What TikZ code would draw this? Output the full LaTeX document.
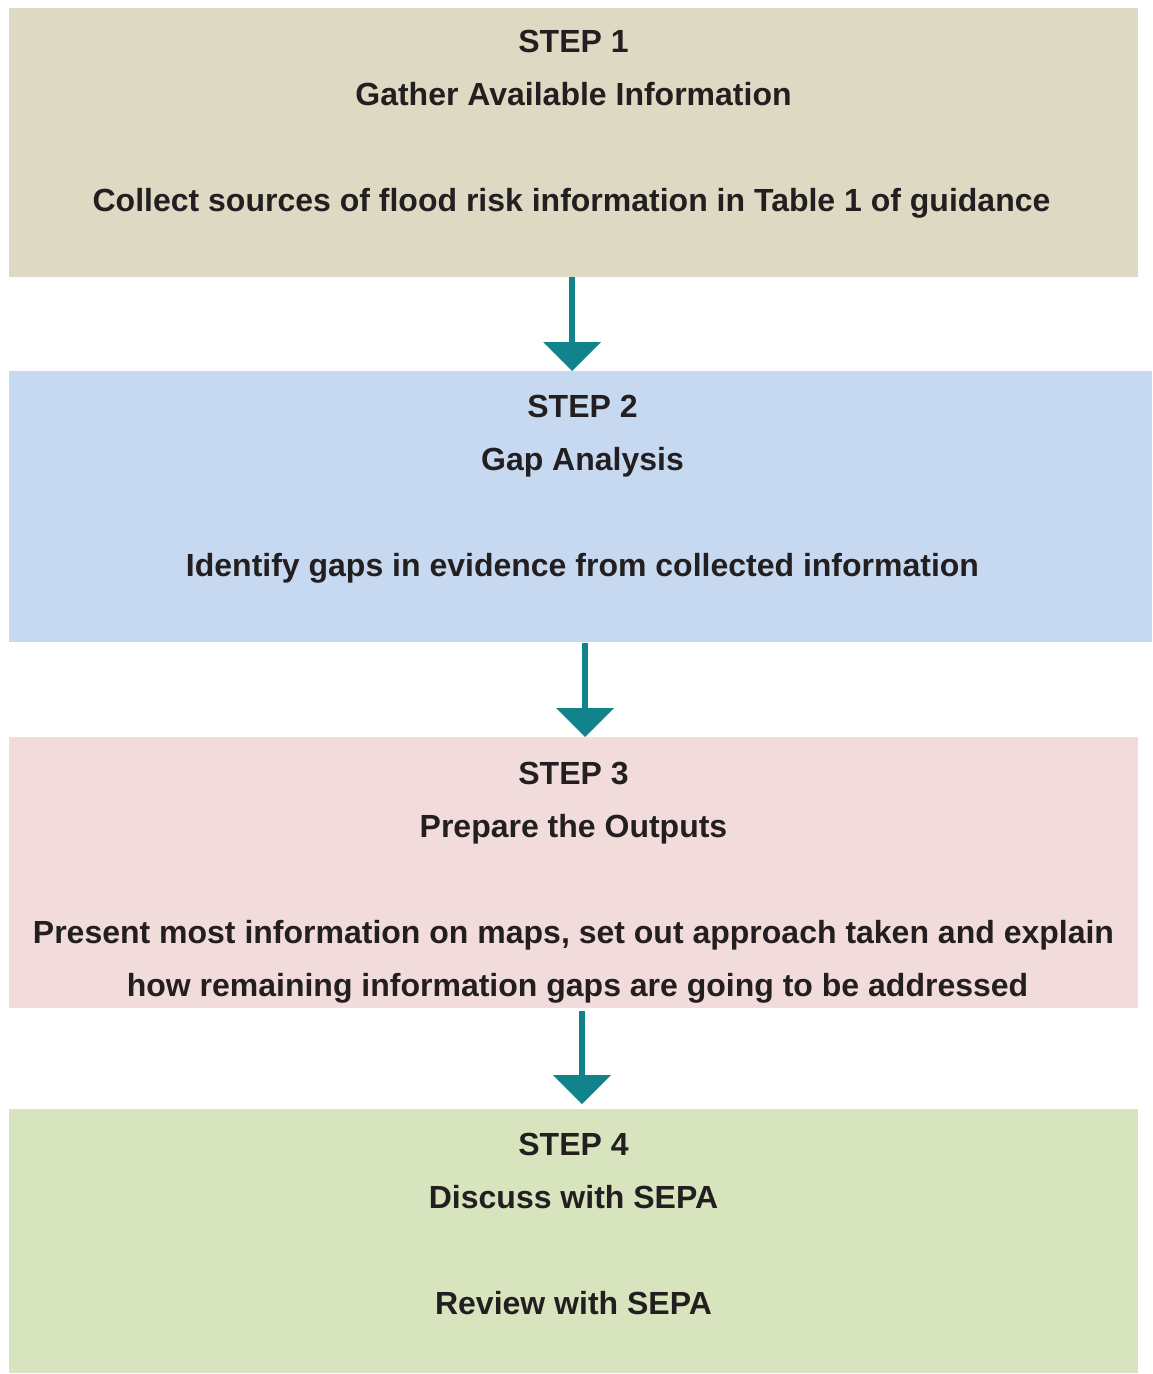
\documentclass[tikz,border=0pt]{standalone}
\usepackage{fontspec}
\setmainfont{Liberation Sans}
\usetikzlibrary{arrows.meta,calc}
\definecolor{cbeige}{HTML}{DDD9C3}
\definecolor{cblue}{HTML}{C6D9F0}
\definecolor{cpink}{HTML}{F2DCDB}
\definecolor{cgreen}{HTML}{D7E4BD}
\definecolor{cteal}{HTML}{11838B}
\definecolor{ctext}{HTML}{231F20}
\begin{document}
\begin{tikzpicture}[x=0.5pt,y=-0.5pt,
  stepbox/.style={rectangle,draw=none,inner sep=0pt,outer sep=0pt},
  txt/.style={anchor=base,inner sep=0pt,text=ctext,font=\fontsize{16pt}{19pt}\selectfont\bfseries},
  flowarrow/.style={draw=cteal,line width=3pt,-{Triangle[width=29pt,length=14.5pt,line width=0pt]}}]
\useasboundingbox (0,0) rectangle (1152,1374);
% boxes
\node[stepbox,fill=cbeige,minimum width=564.5pt,minimum height=134.75pt] (box1) at (573.5,142.75) {};
\node[stepbox,fill=cblue,minimum width=571.5pt,minimum height=135.25pt] (box2) at (580.5,506.25) {};
\node[stepbox,fill=cpink,minimum width=564.5pt,minimum height=135.65pt] (box3) at (573.5,872.65) {};
\node[stepbox,fill=cgreen,minimum width=564.5pt,minimum height=132pt] (box4) at (573.5,1241) {};
% texts
\node[txt] (t1a) at (573.5,53) {STEP 1};
\node[txt] (t1b) at (573.5,106) {Gather Available Information};
\node[txt] (t1c) at (571.5,212) {Collect sources of flood risk information in Table 1 of guidance};
\node[txt] (t2a) at (582.5,417) {STEP 2};
\node[txt] (t2b) at (582.5,470) {Gap Analysis};
\node[txt] (t2c) at (582.5,576) {Identify gaps in evidence from collected information};
\node[txt] (t3a) at (573.5,784) {STEP 3};
\node[txt] (t3b) at (573.5,837) {Prepare the Outputs};
\node[txt] (t3c) at (573.5,943) {Present most information on maps, set out approach taken and explain};
\node[txt] (t3d) at (577.5,996) {how remaining information gaps are going to be addressed};
\node[txt] (t4a) at (573.5,1155) {STEP 4};
\node[txt] (t4b) at (573.5,1208) {Discuss with SEPA};
\node[txt] (t4c) at (573.5,1314) {Review with SEPA};
% arrows
\draw[flowarrow] ($(box1.south)+(-1.5,0)$) -- ($(box2.north)+(-8.5,0)$);
\draw[flowarrow,shorten <=0.75pt] ($(box2.south)+(4.5,0)$) -- ($(box3.north)+(11.5,0)$);
\draw[flowarrow,shorten <=1.5pt,shorten >=2.5pt] ($(box3.south)+(8.5,0)$) -- ($(box4.north)+(8.5,0)$);
\end{tikzpicture}
\end{document}
